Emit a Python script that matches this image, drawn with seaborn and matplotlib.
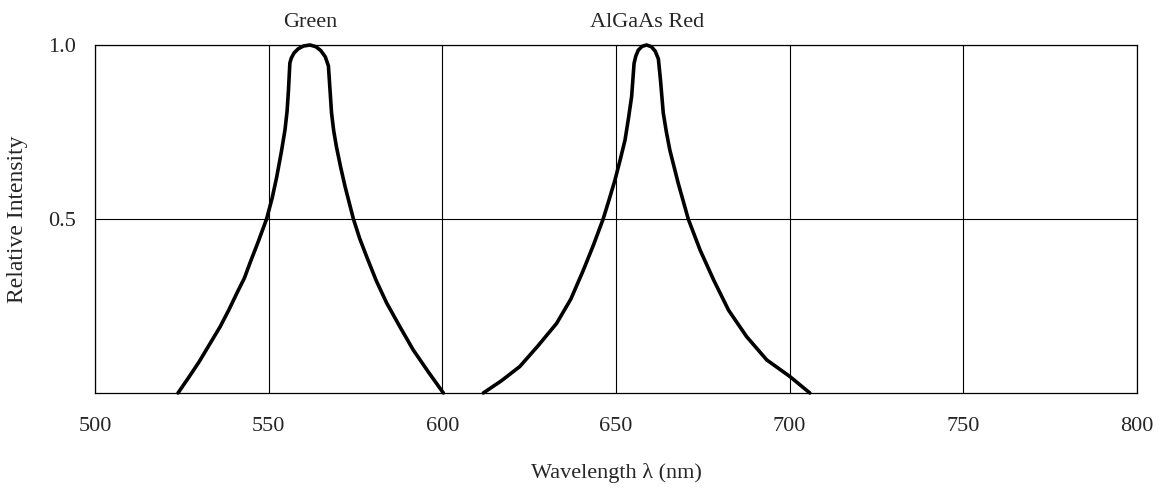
import matplotlib
matplotlib.use('Agg')
import matplotlib.pyplot as plt
import pandas as pd
import seaborn as sns

# spectrum (wavelength nm, relative intensity)
green_nm = [523.9, 527, 530, 533, 536.0, 538.5, 541, 543, 544.6, 547, 549.4, 551, 552.3,
            553.6, 554.7, 555.3, 555.7, 556.1, 556.5, 557.3, 558.5, 560.0, 561.9, 563.6,
            565.0, 566.3, 567.2, 567.6, 568.1, 568.7, 569.5, 570.7, 572.0, 574.4, 576.2,
            578.2, 581, 584.0, 587.8, 591.6, 596, 600.3]
green_int = [0, 0.045, 0.09, 0.14, 0.19, 0.238, 0.29, 0.33, 0.373, 0.435, 0.5, 0.56, 0.62,
             0.69, 0.756, 0.81, 0.87, 0.948, 0.962, 0.977, 0.989, 0.997, 1.0, 0.995,
             0.984, 0.966, 0.94, 0.88, 0.805, 0.755, 0.708, 0.65, 0.593, 0.5, 0.444,
             0.392, 0.322, 0.258, 0.19, 0.124, 0.06, 0]

red_nm = [611.8, 617.0, 622.3, 627.5, 632.9, 637.0, 640.6, 643.5, 646.3, 648.0, 649.7,
          651.2, 652.6, 653.6, 654.5, 655.2, 655.7, 656.4, 657.5, 658.8, 660.2, 661.3,
          662.2, 662.8, 663.6, 664.5, 665.5, 667.9, 670.8, 674.2, 678.1, 682.4, 687.6,
          693.4, 700.1, 705.8]
red_int = [0, 0.035, 0.076, 0.135, 0.2, 0.27, 0.353, 0.425, 0.5, 0.555, 0.612,
           0.67, 0.727, 0.79, 0.852, 0.947, 0.968, 0.985, 0.996, 1.0, 0.995, 0.982,
           0.96, 0.9, 0.805, 0.75, 0.698, 0.603, 0.5, 0.411, 0.325, 0.238, 0.162,
           0.095, 0.047, 0]

curve_labels = ['Green', 'AlGaAs Red']
label_nm = [562, 659]
x_ticks = [500, 550, 600, 650, 700, 750, 800]
y_ticks = [0.5, 1.0]

sns.set_style('white')
plt.rcParams['font.family'] = ['Liberation Serif', 'DejaVu Serif']

fig = plt.figure(figsize=(11.7, 4.96), dpi=100)
ax = fig.add_axes([0.0812, 0.2077, 0.8906, 0.7016])

green = pd.DataFrame({'nm': green_nm, 'rel': green_int})
red = pd.DataFrame({'nm': red_nm, 'rel': red_int})
for df in [green, red]:
    sns.lineplot(data=df, x='nm', y='rel', ax=ax, color='black', linewidth=2.6,
                 clip_on=False, solid_joinstyle='round', solid_capstyle='round')

ax.set_xlim(500, 800)
ax.set_ylim(0, 1.0)
ax.set_xticks(x_ticks)
ax.set_yticks(y_ticks)
ax.set_yticklabels(['0.5', '1.0'])
ax.grid(True, color='black', linewidth=0.8)
ax.tick_params(axis='both', length=0, labelsize=16)
ax.tick_params(axis='x', pad=17)
ax.tick_params(axis='y', pad=14)
for s in ax.spines.values():
    s.set_color('black')
    s.set_linewidth(0.9)

ax.set_xlabel('Wavelength λ (nm)', fontsize=16, labelpad=20)
ax.set_ylabel('Relative Intensity', fontsize=17, labelpad=14)

for lab, nm in zip(curve_labels, label_nm):
    ax.text(nm, 1.065, lab, ha='center', va='center', fontsize=16,
            transform=ax.get_xaxis_transform())

plt.savefig('out.png', dpi=100)
